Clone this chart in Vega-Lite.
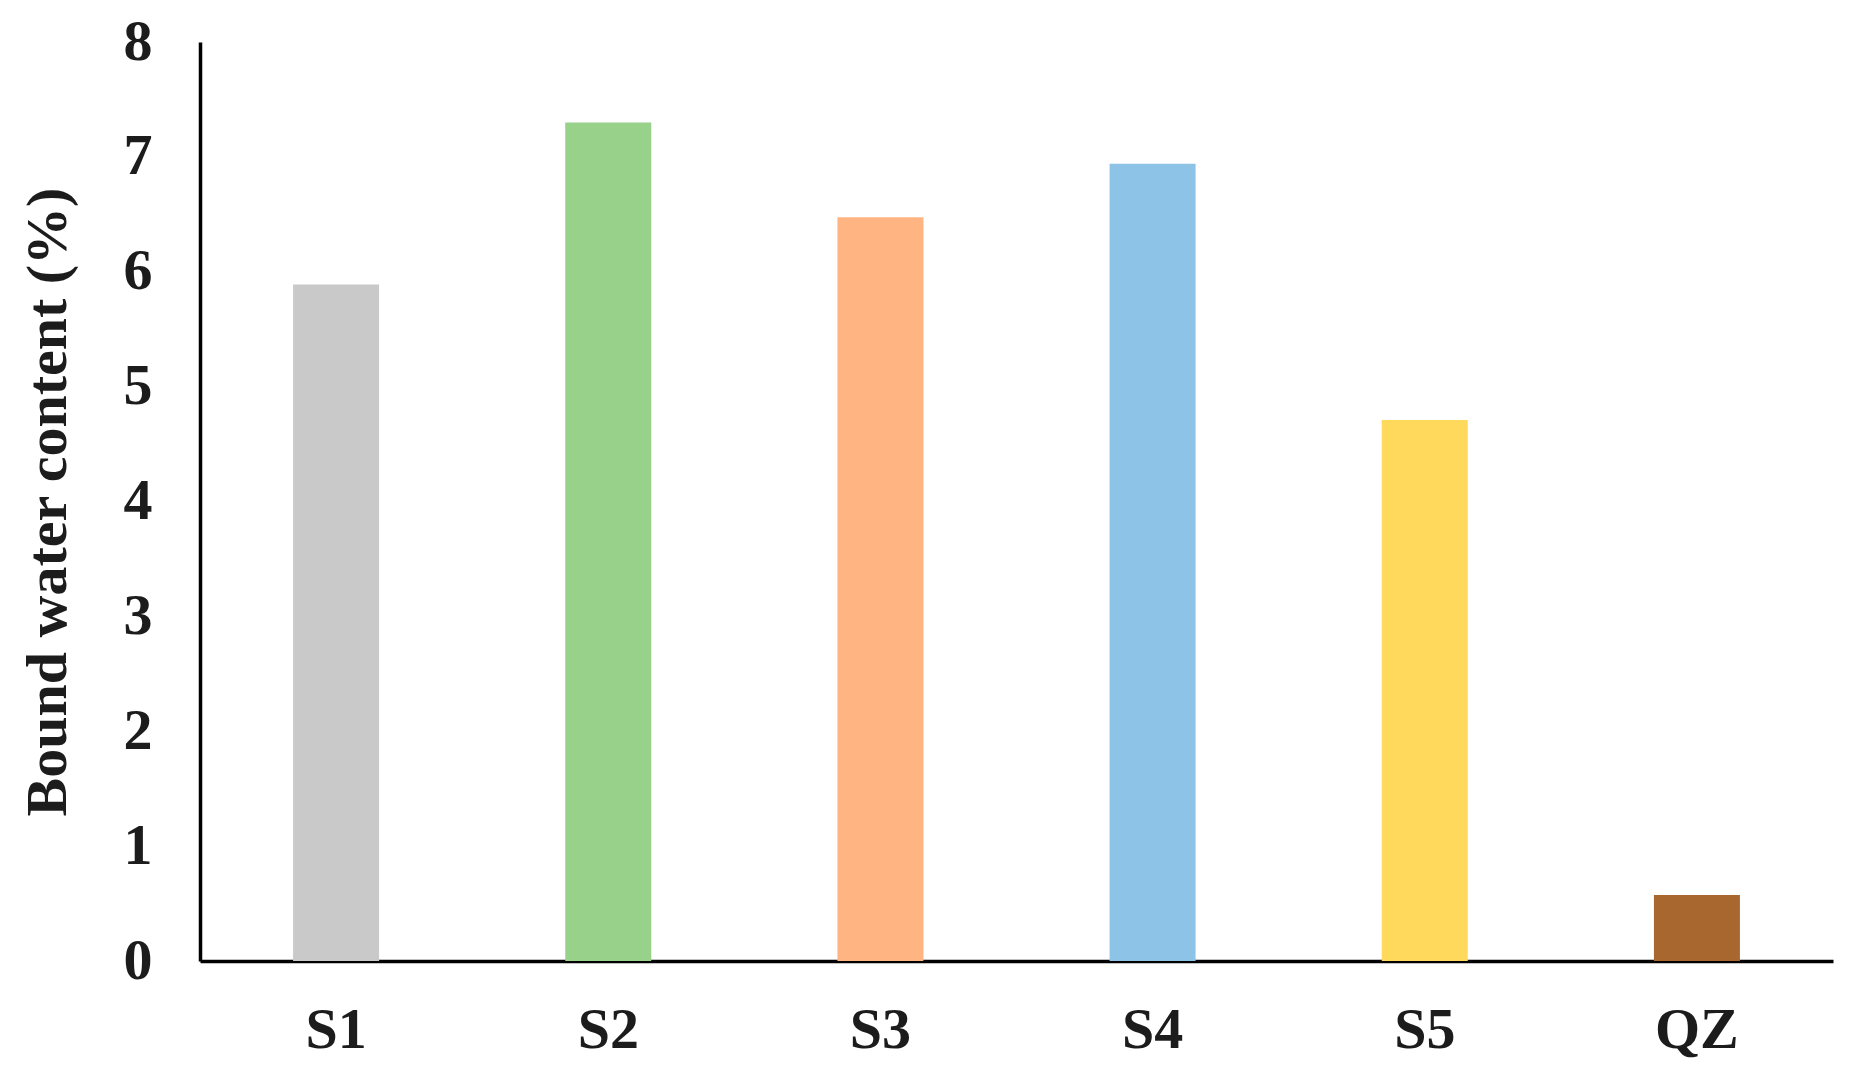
{
  "$schema": "https://vega.github.io/schema/vega-lite/v6.json",
  "autosize": {"type": "none"},
  "padding": {"left": 200, "top": 42, "right": 17, "bottom": 116},
  "width": 1633,
  "height": 919,
  "background": "white",
  "config": {
    "view": {"stroke": null},
    "font": "Liberation Serif"
  },
  "data": {
    "values": [
      {"sample": "S1", "value": 5.89},
      {"sample": "S2", "value": 7.30},
      {"sample": "S3", "value": 6.475},
      {"sample": "S4", "value": 6.94},
      {"sample": "S5", "value": 4.71},
      {"sample": "QZ", "value": 0.575}
    ]
  },
  "mark": {"type": "bar", "width": {"band": 0.316}},
  "encoding": {
    "x": {
      "field": "sample",
      "type": "nominal",
      "sort": null,
      "scale": {"paddingInner": 0, "paddingOuter": 0},
      "axis": {
        "title": null,
        "labelAngle": 0,
        "labelFont": "Liberation Serif",
        "labelFontWeight": "bold",
        "labelFontSize": 58,
        "labelColor": "#1c1c1c",
        "labelPadding": 40,
        "ticks": false,
        "domainColor": "black",
        "domainWidth": 3.5,
        "grid": false
      }
    },
    "y": {
      "field": "value",
      "type": "quantitative",
      "scale": {"domain": [0, 8], "nice": false},
      "axis": {
        "title": "Bound water content (%)",
        "titleFont": "Liberation Serif",
        "titleFontWeight": "bold",
        "titleFontSize": 58,
        "titleColor": "#1c1c1c",
        "titlePadding": 46,
        "values": [0, 1, 2, 3, 4, 5, 6, 7, 8],
        "labelFont": "Liberation Serif",
        "labelFontWeight": "bold",
        "labelFontSize": 58,
        "labelColor": "#1c1c1c",
        "labelPadding": 48,
        "ticks": false,
        "tickSize": 0,
        "domainColor": "black",
        "domainWidth": 3.5,
        "grid": false
      }
    },
    "color": {
      "field": "sample",
      "type": "nominal",
      "scale": {
        "domain": ["S1", "S2", "S3", "S4", "S5", "QZ"],
        "range": ["#C9C9C9", "#97D18A", "#FFB482", "#8DC3E6", "#FFD95C", "#A8672E"]
      },
      "legend": null
    }
  }
}
